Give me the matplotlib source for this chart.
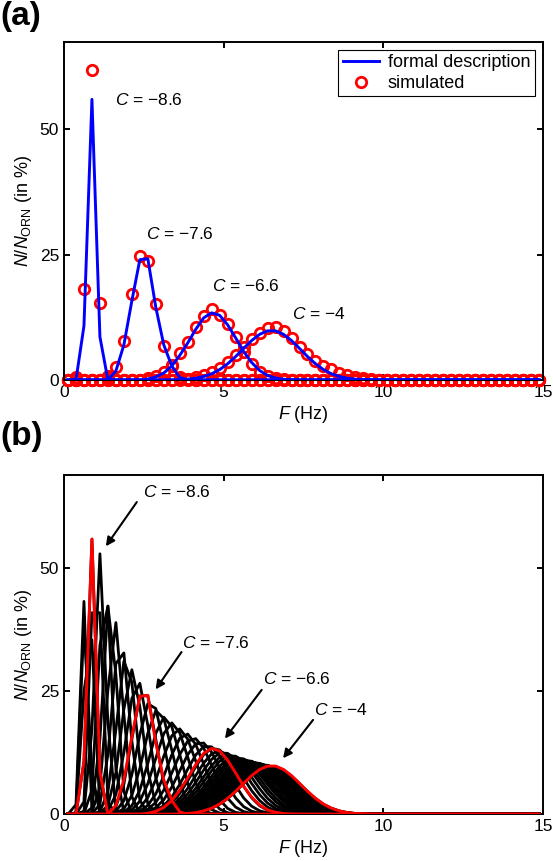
import numpy as np
import matplotlib.pyplot as plt

plt.rcParams.update({
    'font.family': 'Liberation Sans',
    'mathtext.fontset': 'custom',
    'mathtext.rm': 'Liberation Sans',
    'mathtext.it': 'Liberation Sans:italic',
    'mathtext.bf': 'Liberation Sans:bold',
    'font.size': 12,
    'axes.linewidth': 1.4,
    'xtick.direction': 'in',
    'ytick.direction': 'in',
    'xtick.top': True,
    'ytick.right': True,
    'xtick.major.size': 4,
    'ytick.major.size': 4,
    'xtick.major.width': 1.4,
    'ytick.major.width': 1.4,
    'xtick.labelsize': 12.5,
    'ytick.labelsize': 12.5,
})

# firing-rate bins (Hz), 0.25 Hz wide
rate_bins = np.arange(0.125, 15.0, 0.25)

# panel (a): formal description / simulated, value lists start at the given bin
formal_86_start, formal_86 = 0.375, [0.0, 10.8, 56.0, 8.6, 0.0]
sim_86_start, sim_86 = 0.375, [0.6, 18.2, 61.8, 15.4, 0.8]

formal_76_start, formal_76 = 1.375, [0.0, 1.8, 7.0, 15.8, 24.0, 24.2, 14.5, 7.0, 2.8, 0.5, 0.0]
sim_76_start, sim_76 = 1.375, [0.4, 2.5, 7.8, 17.2, 24.7, 23.7, 15.2, 6.8, 2.7, 0.6, 0.1]

formal_66_start = 2.625
formal_66 = [0.2, 0.6, 1.4, 2.8, 4.9, 7.4, 10.1, 12.4, 13.4, 12.9, 11.0, 8.4, 5.7,
             3.5, 1.9, 0.9, 0.4, 0.15, 0.05]
sim_66_start = 2.625
sim_66 = [0.3, 0.8, 1.6, 3.0, 5.3, 7.6, 10.5, 12.8, 14.1, 13.0, 11.2, 8.6, 5.6,
          3.2, 1.6, 0.7, 0.3, 0.1, 0.0]

formal_40_start = 3.625
formal_40 = [0.08, 0.17, 0.35, 0.69, 1.24, 2.08, 3.24, 4.68, 6.30, 7.86, 9.11, 9.81,
             9.81, 9.11, 7.86, 6.30, 4.68, 3.24, 2.08, 1.24, 0.69, 0.35, 0.17, 0.08, 0.03]
sim_40_start = 3.625
sim_40 = [0.1, 0.2, 0.5, 0.9, 1.6, 2.4, 3.5, 5.0, 6.6, 8.2, 9.4, 10.3, 10.5, 9.7, 8.3,
          6.6, 5.2, 3.8, 2.8, 2.1, 1.4, 0.9, 0.5, 0.3, 0.1]

labelled_c = ['\u22128.6', '\u22127.6', '\u22126.6', '\u22124']

# panel (b): family of response distributions, one per concentration C
family_c = [-8.9, -8.8, -8.7, -8.6, -8.5, -8.4, -8.3, -8.2, -8.1, -8.0,
            -7.9, -7.8, -7.7, -7.6, -7.5, -7.4, -7.3, -7.2, -7.1, -7.0,
            -6.9, -6.8, -6.7, -6.6, -6.5, -6.4, -6.3, -6.2, -6.1, -6.0,
            -5.9, -5.8, -5.7, -5.6, -5.5, -5.4, -5.3, -5.2, -5.1, -5.0,
            -4.9, -4.8, -4.7, -4.6, -4.5, -4.4, -4.3, -4.2, -4.1, -4.0]
family_mean = [0.60, 0.69, 0.77, 0.867, 1.00, 1.13, 1.28, 1.43, 1.60, 1.77,
               1.95, 2.13, 2.31, 2.50, 2.72, 2.94, 3.16, 3.38, 3.60, 3.82,
               4.05, 4.27, 4.49, 4.70, 4.85, 4.99, 5.12, 5.24, 5.35, 5.45,
               5.54, 5.63, 5.71, 5.78, 5.85, 5.92, 5.98, 6.04, 6.09, 6.14,
               6.19, 6.23, 6.27, 6.31, 6.35, 6.38, 6.41, 6.44, 6.47, 6.50]
family_sd = [0.09, 0.10, 0.12, 0.133, 0.15, 0.17, 0.19, 0.21, 0.24, 0.27,
             0.29, 0.32, 0.35, 0.37, 0.41, 0.44, 0.47, 0.51, 0.54, 0.57,
             0.61, 0.64, 0.67, 0.705, 0.73, 0.75, 0.77, 0.79, 0.80, 0.82,
             0.83, 0.84, 0.86, 0.87, 0.88, 0.88, 0.89, 0.89, 0.90, 0.90,
             0.90, 0.91, 0.91, 0.91, 0.91, 0.92, 0.92, 0.92, 0.92, 0.92]
family_peak = [45.0, 48.0, 52.0, 56.0, 58.0, 53.0, 48.0, 43.8, 39.2, 35.4,
               32.2, 29.4, 27.1, 25.5, 23.1, 21.3, 19.8, 18.6, 17.4, 16.4,
               15.5, 14.7, 14.0, 13.5, 12.9, 12.6, 12.2, 12.0, 11.7, 11.5,
               11.3, 11.1, 11.0, 10.8, 10.7, 10.6, 10.5, 10.4, 10.3, 10.2,
               10.1, 10.1, 10.0, 9.9, 9.9, 9.8, 9.8, 9.8, 9.8, 9.8]


def on_bins(start, values):
    out = np.zeros_like(rate_bins)
    i0 = int(round((start - rate_bins[0]) / 0.25))
    out[i0:i0 + len(values)] = values
    return out


def bump(mean, sd, peak):
    return peak * np.exp(-(rate_bins - mean) ** 2 / (2 * sd ** 2))


formal_curves = [on_bins(formal_86_start, formal_86), on_bins(formal_76_start, formal_76),
                 on_bins(formal_66_start, formal_66), on_bins(formal_40_start, formal_40)]
sim_curves = [on_bins(sim_86_start, sim_86), on_bins(sim_76_start, sim_76),
              on_bins(sim_66_start, sim_66), on_bins(sim_40_start, sim_40)]

fig = plt.figure(figsize=(5.53, 8.61), dpi=100)
W, H = 553.0, 861.0
ax_a = fig.add_axes([64 / W, 1 - 380 / H, 479 / W, 338.3 / H])
ax_b = fig.add_axes([64 / W, 1 - 814.3 / H, 479 / W, 339.3 / H])

# ---- panel (a)
for i, (formal, sim) in enumerate(zip(formal_curves, sim_curves)):
    ax_a.plot(rate_bins, sim, 'o', mfc='none', mec='red', ms=7.5, mew=2.0,
              clip_on=False, zorder=2, label='simulated' if i == 0 else None)
    ax_a.plot(rate_bins, formal, '-', color='blue', lw=2.1, zorder=3,
              label='formal description' if i == 0 else None)

text_pos_a = [(1.6, 55.8), (2.56, 29.1), (4.65, 18.8), (7.13, 13.1)]
for (tx, ty), c in zip(text_pos_a, labelled_c):
    ax_a.text(tx, ty, f'$C$ = {c}', fontsize=12.5, ha='left', va='center')

handles, labels = ax_a.get_legend_handles_labels()
ax_a.legend([handles[1], handles[0]], [labels[1], labels[0]], loc='upper right',
            fontsize=13, fancybox=False, edgecolor='k', framealpha=1,
            borderaxespad=0.45, handlelength=2.0, borderpad=0.25,
            labelspacing=0.2, handletextpad=0.5).get_frame().set_linewidth(0.8)

ax_a.set_xlim(0, 15)
ax_a.set_ylim(0, 67.5)
ax_a.set_xticks([0, 5, 10, 15])
ax_a.set_yticks([0, 25, 50])
ax_a.set_xlabel('$F$ (Hz)', fontsize=13, labelpad=3)
ax_a.set_ylabel('$N$/$N_{\\mathrm{ORN}}$ (in %)', fontsize=13, labelpad=4)

# ---- panel (b)
for m, s, p in zip(family_mean, family_sd, family_peak):
    ax_b.plot(rate_bins, bump(m, s, p), '-', color='black', lw=2.0, zorder=2)
for formal in formal_curves:
    ax_b.plot(rate_bins, formal, '-', color='red', lw=2.1, zorder=3)

arrows_b = [((2.48, 65.6), (2.28, 63.5), (1.31, 54.5)),
            ((3.71, 34.9), (3.68, 33.0), (2.87, 25.4)),
            ((6.22, 27.6), (6.19, 25.3), (5.04, 15.4)),
            ((7.82, 21.2), (7.80, 19.2), (6.86, 11.4))]
for ((tx, ty), tail, head), c in zip(arrows_b, labelled_c):
    ax_b.text(tx, ty, f'$C$ = {c}', fontsize=12.5, ha='left', va='center')
    ax_b.annotate('', xy=head, xytext=tail,
                  arrowprops=dict(arrowstyle='-|>', color='black', lw=1.5,
                                  mutation_scale=13, shrinkA=0, shrinkB=0))

ax_b.set_xlim(0, 15)
ax_b.set_ylim(0, 69)
ax_b.set_xticks([0, 5, 10, 15])
ax_b.set_yticks([0, 25, 50])
ax_b.set_xlabel('$F$ (Hz)', fontsize=13, labelpad=3)
ax_b.set_ylabel('$N$/$N_{\\mathrm{ORN}}$ (in %)', fontsize=13, labelpad=4)

fig.text(0.0, 1 - 1 / H, '(a)', fontsize=24, fontweight='bold', ha='left', va='top')
fig.text(0.0, 1 - 421 / H, '(b)', fontsize=24, fontweight='bold', ha='left', va='top')

fig.savefig('out.png', dpi=100)
